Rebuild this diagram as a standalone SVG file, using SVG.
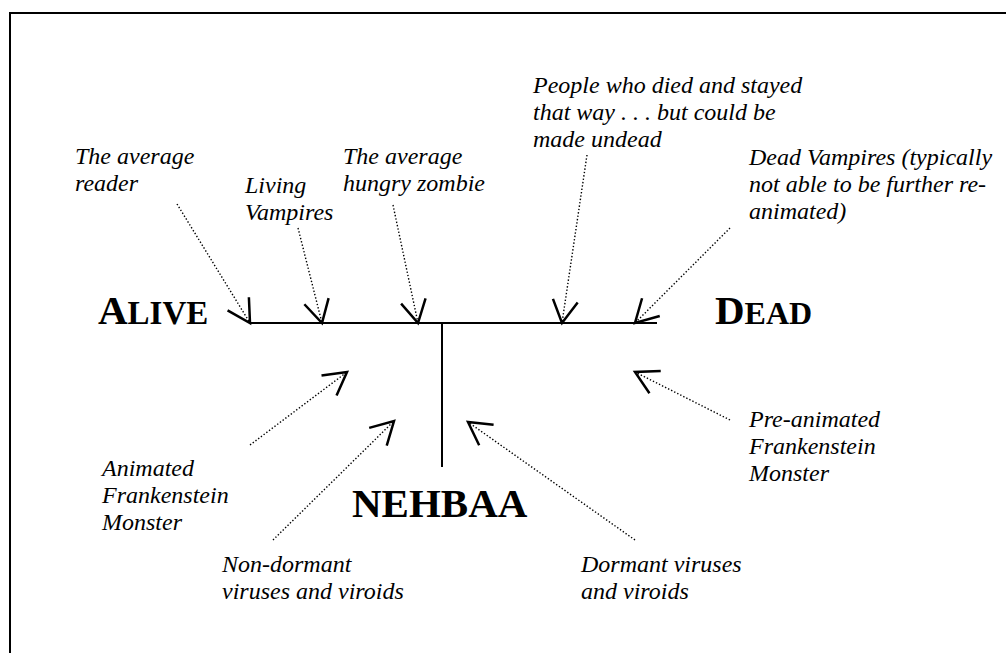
<svg xmlns="http://www.w3.org/2000/svg" width="1006" height="653" viewBox="0 0 1006 653">
<style>
.lbl{font-family:"Liberation Serif","Times New Roman",serif;font-style:italic;font-size:24px;fill:#000}
.big{font-family:"Liberation Serif","Times New Roman",serif;font-weight:bold;fill:#000}
.axis{stroke:#000;stroke-width:2;fill:none}
.ptr{stroke:#000;stroke-width:1.4;stroke-dasharray:1.4 2;fill:none;marker-end:url(#vhead)}
</style>
<defs>
<marker id="vhead" markerUnits="userSpaceOnUse" markerWidth="30" markerHeight="30" viewBox="-20 -12 22 24" refX="0" refY="0" orient="auto">
<path d="M-18,-10 L0,0 L-18,10" fill="none" stroke="#000" stroke-width="2"/>
</marker>
<clipPath id="zclip"><rect x="330" y="130" width="200" height="67"/></clipPath>
</defs>
<rect width="1006" height="653" fill="#fff"/>
<path d="M10,653 L10,13 L1006,13" fill="none" stroke="#000" stroke-width="2"/>

<g id="axes">
<line class="axis" x1="250" y1="323" x2="657" y2="323"/>
<line class="axis" x1="442" y1="323" x2="442" y2="467"/>
</g>

<g id="alive"><text class="big" x="98" y="324"><tspan font-size="41">A</tspan><tspan font-size="33">LIVE</tspan></text></g>
<g id="dead"><text class="big" x="715" y="324"><tspan font-size="41">D</tspan><tspan font-size="32">EAD</tspan></text></g>
<g id="nehbaa"><text class="big" x="352" y="517" font-size="41">NEHBAA</text></g>

<g id="reader"><text class="lbl" x="75" y="164">The average</text><text class="lbl" x="75" y="191">reader</text></g>
<g id="living"><text class="lbl" x="245" y="193">Living</text><text class="lbl" x="245" y="220">Vampires</text></g>
<g id="zombie" clip-path="url(#zclip)"><text class="lbl" x="343" y="164">The average</text><text class="lbl" x="343" y="191">hungry zombie</text></g>
<g id="people"><text class="lbl" x="533" y="93">People who died and stayed</text><text class="lbl" x="533" y="120">that way . . . but could be</text><text class="lbl" x="533" y="147">made undead</text></g>
<g id="deadvamp"><text class="lbl" x="749" y="165">Dead Vampires (typically</text><text class="lbl" x="749" y="192">not able to be further re-</text><text class="lbl" x="749" y="219">animated)</text></g>
<g id="preanimated"><text class="lbl" x="749" y="427">Pre-animated</text><text class="lbl" x="749" y="454">Frankenstein</text><text class="lbl" x="749" y="481">Monster</text></g>
<g id="animated"><text class="lbl" x="102" y="476">Animated</text><text class="lbl" x="102" y="503">Frankenstein</text><text class="lbl" x="102" y="530">Monster</text></g>
<g id="nondormant"><text class="lbl" x="222" y="572">Non-dormant</text><text class="lbl" x="222" y="599">viruses and viroids</text></g>
<g id="dormant"><text class="lbl" x="581" y="572">Dormant viruses</text><text class="lbl" x="581" y="599">and viroids</text></g>

<g id="connectors">
<line class="ptr" x1="177" y1="204" x2="250" y2="323"/>
<line class="ptr" x1="298" y1="228" x2="322" y2="323"/>
<line class="ptr" x1="393" y1="205" x2="418" y2="323"/>
<line class="ptr" x1="587" y1="155" x2="562" y2="323"/>
<line class="ptr" x1="730" y1="228" x2="635" y2="323"/>
<line class="ptr" x1="250" y1="445" x2="347" y2="372"/>
<line class="ptr" x1="273" y1="540" x2="394" y2="421"/>
<line class="ptr" x1="635" y1="540" x2="468" y2="422"/>
<line class="ptr" x1="730" y1="420" x2="635" y2="372"/>
</g>
</svg>
